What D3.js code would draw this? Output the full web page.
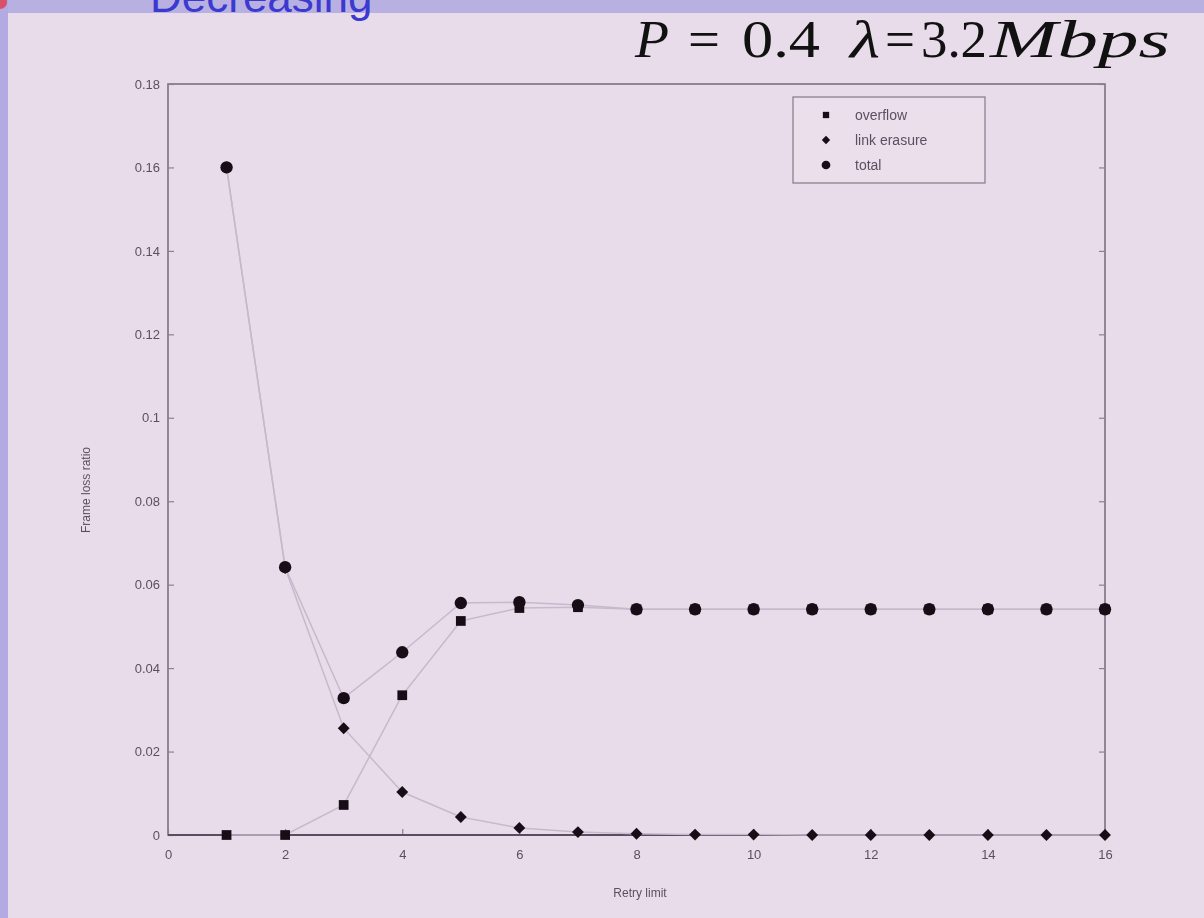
<!DOCTYPE html>
<html><head><meta charset="utf-8">
<script src="https://cdn.jsdelivr.net/npm/d3@7/dist/d3.min.js"></script>
<style>
html,body{margin:0;padding:0;background:#e9dcea;}
svg{display:block;}
</style></head>
<body>
<svg id="chart" width="1204" height="918"></svg>
<script>
const retryLimits = [1,2,3,4,5,6,7,8,9,10,11,12,13,14,15,16];
const overflow    = [0,0,0.0072,0.0335,0.0513,0.0544,0.0546,0.0541,0.0541,0.0541,0.0541,0.0541,0.0541,0.0541,0.0541,0.0541];
const linkErasure = [0.16,0.064,0.0256,0.0103,0.0043,0.0017,0.0007,0.0003,0.0001,0.0001,0,0,0,0,0,0];
const total       = [0.16,0.0642,0.0328,0.0438,0.0556,0.0558,0.0551,0.0541,0.0541,0.0541,0.0541,0.0541,0.0541,0.0541,0.0541,0.0541];
const xTicks = [0,2,4,6,8,10,12,14,16];
const yTicks = [0,0.02,0.04,0.06,0.08,0.1,0.12,0.14,0.16,0.18];
const seriesNames = ["overflow","link erasure","total"];

const svg = d3.select("#chart");
const defs = svg.append("defs");
defs.append("filter").attr("id","soft").append("feGaussianBlur").attr("stdDeviation",0.5);

// slide frame
svg.append("rect").attr("x",0).attr("y",0).attr("width",1204).attr("height",918).attr("fill","#e9dcea");
svg.append("rect").attr("x",0).attr("y",0).attr("width",1204).attr("height",13).attr("fill","#b9b0e2");
svg.append("rect").attr("x",0).attr("y",0).attr("width",8).attr("height",918).attr("fill","#b3aae2");
svg.append("circle").attr("cx",0).attr("cy",2).attr("r",7).attr("fill","#d9506a");
svg.append("text").attr("x",150).attr("y",12).attr("font-family","Liberation Sans, Arial, sans-serif")
  .attr("font-size",44).attr("fill","#3a3ad0").text("Decreasing");

// formula title, pieces placed along the slide's header line
const serif = "Liberation Serif, Times New Roman, serif";
const titleParts = [
  {t:"P", x:635, w:34, it:true},
  {t:"=", x:688, w:32, it:false},
  {t:"0.4", x:742, w:78, it:false},
  {t:"λ", x:850, w:30, it:true},
  {t:"=", x:885, w:30, it:false},
  {t:"3.2", x:921, w:66, it:false},
  {t:"Mbps", x:990, w:180, it:true}
];
const tg = svg.append("g");
titleParts.forEach(p=>{
  tg.append("text").attr("x",p.x).attr("y",57).attr("font-family",serif).attr("font-size",52)
    .attr("font-style",p.it?"italic":"normal").attr("fill","#111")
    .attr("textLength",p.w).attr("lengthAdjust","spacingAndGlyphs").text(p.t);
});

const L = 168, R = 1105, T = 84, B = 835;
const x = d3.scaleLinear().domain([0,16]).range([L,R]);
const y = d3.scaleLinear().domain([0,0.18]).range([B,T]);

const g = svg.append("g").attr("filter","url(#soft)");

// box
g.append("rect").attr("x",L).attr("y",T).attr("width",R-L).attr("height",B-T)
  .attr("fill","none").attr("stroke","#7a7082").attr("stroke-width",1.6);

// axes
const fontAx = "Liberation Sans, Arial, sans-serif";
const yAxis = g.append("g").attr("transform",`translate(${L},0)`)
  .call(d3.axisLeft(y).tickValues(yTicks).tickSize(-6).tickPadding(8).tickFormat(d=>d3.format("~g")(+d.toFixed(2))));
const yAxisR = g.append("g").attr("transform",`translate(${R},0)`)
  .call(d3.axisRight(y).tickValues(yTicks).tickSize(-6).tickFormat(""));
const xAxis = g.append("g").attr("transform",`translate(0,${B})`)
  .call(d3.axisBottom(x).tickValues(xTicks).tickSize(-6).tickPadding(15).tickFormat(d3.format("d")));
[yAxis,yAxisR,xAxis].forEach(a=>{
  a.select(".domain").remove();
  a.selectAll(".tick line").attr("stroke","#8a8090").attr("stroke-width",1.2);
  a.selectAll("text").attr("font-family",fontAx).attr("font-size",13).attr("fill","#5a5060");
});
// bottom axis line drawn dark
g.append("line").attr("x1",L).attr("x2",R).attr("y1",B).attr("y2",B).attr("stroke","#5a4e62").attr("stroke-width",2.2);

// axis labels
g.append("text").attr("x",640).attr("y",897).attr("text-anchor","middle").attr("font-family",fontAx)
  .attr("font-size",12).attr("fill","#5a5060").text("Retry limit");
g.append("text").attr("transform","translate(90,490) rotate(-90)").attr("text-anchor","middle").attr("font-family",fontAx)
  .attr("font-size",12).attr("fill","#5a5060").text("Frame loss ratio");

// lines
const line = d3.line().x((d,i)=>x(retryLimits[i])).y(d=>y(d));
[overflow,linkErasure,total].forEach(s=>{
  g.append("path").attr("d",line(s)).attr("fill","none").attr("stroke","#c8b8cc").attr("stroke-width",1.5);
});

// markers
const sym = [d3.symbolSquare, d3.symbolDiamond2, d3.symbolCircle];
const sizes = [95, 90, 120];
[overflow,linkErasure,total].forEach((s,k)=>{
  g.selectAll(null).data(s).enter().append("path")
    .attr("transform",(d,i)=>`translate(${x(retryLimits[i])},${y(d)})`)
    .attr("d",d3.symbol().type(sym[k]).size(sizes[k])).attr("fill","#151018");
});

// legend
const lg = g.append("g");
lg.append("rect").attr("x",793).attr("y",97).attr("width",192).attr("height",86)
  .attr("fill","#ecdfec").attr("stroke","#8a8090").attr("stroke-width",1.3);
seriesNames.forEach((n,k)=>{
  const yy = 115 + k*25;
  lg.append("path").attr("transform",`translate(826,${yy})`)
    .attr("d",d3.symbol().type(sym[k]).size([40,45,60][k])).attr("fill","#151018");
  lg.append("text").attr("x",855).attr("y",yy+5).attr("font-family",fontAx).attr("font-size",14)
    .attr("fill","#5a5060").text(n);
});
</script>
</body></html>
